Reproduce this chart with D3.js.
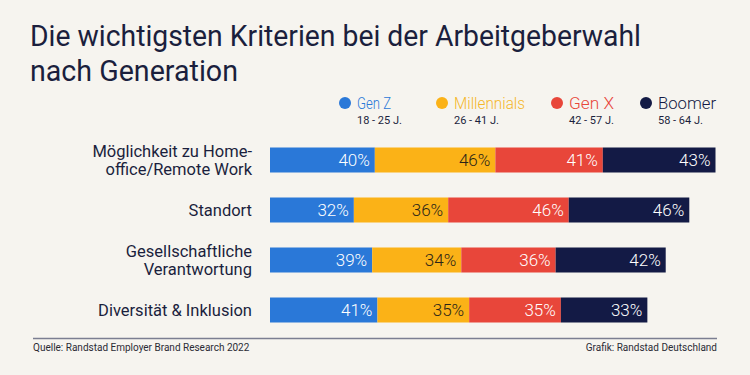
<!DOCTYPE html>
<html>
<head>
<meta charset="utf-8">
<script src="https://cdn.jsdelivr.net/npm/d3@7"></script>
<style>
  body { margin: 0; background: #f6f4ef; }
  svg { display: block; font-family: Roboto, "Open Sans", sans-serif; }
</style>
</head>
<body>
<svg class="chart" width="750" height="375"></svg>
<script>
// data
const categories = [
  ["Möglichkeit zu Home-", "office/Remote Work"],
  ["Standort"],
  ["Gesellschaftliche", "Verantwortung"],
  ["Diversität & Inklusion"]
]
const series = ["Gen Z", "Millennials", "Gen X", "Boomer"]
const ages = ["18 - 25 J.", "26 - 41 J.", "42 - 57 J.", "58 - 64 J."]
const genZ = [40, 32, 39, 41]
const millennials = [46, 36, 34, 35]
const genX = [41, 46, 36, 35]
const boomer = [43, 46, 42, 33]

const colors = ["#2a78d8", "#fbb217", "#e8463a", "#131a45"]
const legendColors = ["#2a78d8", "#f5b72a", "#e8463a", "#131a45"]
const labelColors = ["#fff", "#2a2418", "#fff", "#fff"]
const ink = "#1b1f3d"

const svg = d3.select(".chart")

svg.append("rect").attr("width", 750).attr("height", 375).attr("fill", "#f6f4ef")

// title
const title = svg.append("text")
  .attr("fill", ink)
  .attr("font-size", 30)
  .attr("font-weight", 400)
title.append("tspan").attr("x", 30).attr("y", 46)
  .attr("textLength", 611).attr("lengthAdjust", "spacingAndGlyphs")
  .text("Die wichtigsten Kriterien bei der Arbeitgeberwahl")
title.append("tspan").attr("x", 30).attr("y", 81)
  .attr("textLength", 208).attr("lengthAdjust", "spacingAndGlyphs")
  .text("nach Generation")

// legend
const legendX = [345, 442, 557, 646]
const legendW = [34, 71, 45, 58]
const legend = svg.append("g").attr("class", "legend")
series.forEach((s, i) => {
  legend.append("circle")
    .attr("cx", legendX[i]).attr("cy", 103).attr("r", 6)
    .attr("fill", colors[i])
  legend.append("text")
    .attr("x", legendX[i] + 12).attr("y", 109)
    .attr("font-size", 17)
    .attr("font-weight", 300)
    .attr("textLength", legendW[i]).attr("lengthAdjust", "spacingAndGlyphs")
    .attr("fill", legendColors[i])
    .text(s)
  legend.append("text")
    .attr("x", legendX[i] + 12).attr("y", 124)
    .attr("font-size", 11)
    .attr("fill", ink)
    .text(ages[i])
})

// stacked bars
const rows = categories.map((c, i) => ({
  label: c,
  values: [genZ[i], millennials[i], genX[i], boomer[i]]
}))

const x = d3.scaleLinear().domain([0, 170]).range([270, 715.5])
const y = d3.scaleBand().domain(d3.range(rows.length)).range([135, 335]).paddingInner(0.5).paddingOuter(0.25)

const graph = svg.append("g").attr("class", "graph")

rows.forEach((row, r) => {
  const stack = d3.cumsum(row.values)
  const g = graph.append("g")
  const yc = y(r) + y.bandwidth() / 2

  row.values.forEach((v, i) => {
    const x0 = x(stack[i] - v), x1 = x(stack[i])
    g.append("rect")
      .attr("x", x0).attr("y", y(r))
      .attr("width", x1 - x0).attr("height", y.bandwidth())
      .attr("fill", colors[i])
    g.append("text")
      .attr("x", x1 - 5).attr("y", yc)
      .attr("dy", "0.36em")
      .attr("text-anchor", "end")
      .attr("font-size", 17)
      .attr("font-weight", 300)
      .attr("fill", labelColors[i])
      .text(v + "%")
  })

  const lab = g.append("text")
    .attr("text-anchor", "end")
    .attr("font-size", 16.5)
    .attr("fill", ink)
  const n = row.label.length
  row.label.forEach((t, k) => {
    lab.append("tspan")
      .attr("x", 252)
      .attr("y", yc + 6 + (k - (n - 1) / 2) * 18)
      .text(t)
  })
})

// footer
svg.append("line")
  .attr("x1", 33).attr("x2", 717)
  .attr("y1", 338.5).attr("y2", 338.5)
  .attr("stroke", "#7b7e91").attr("stroke-width", 1.3)

svg.append("text")
  .attr("x", 33).attr("y", 351)
  .attr("font-size", 10)
  .attr("fill", "#2b2b35")
  .text("Quelle: Randstad Employer Brand Research 2022")

svg.append("text")
  .attr("x", 717).attr("y", 351)
  .attr("text-anchor", "end")
  .attr("font-size", 10)
  .attr("fill", "#2b2b35")
  .text("Grafik: Randstad Deutschland")
</script>
</body>
</html>
